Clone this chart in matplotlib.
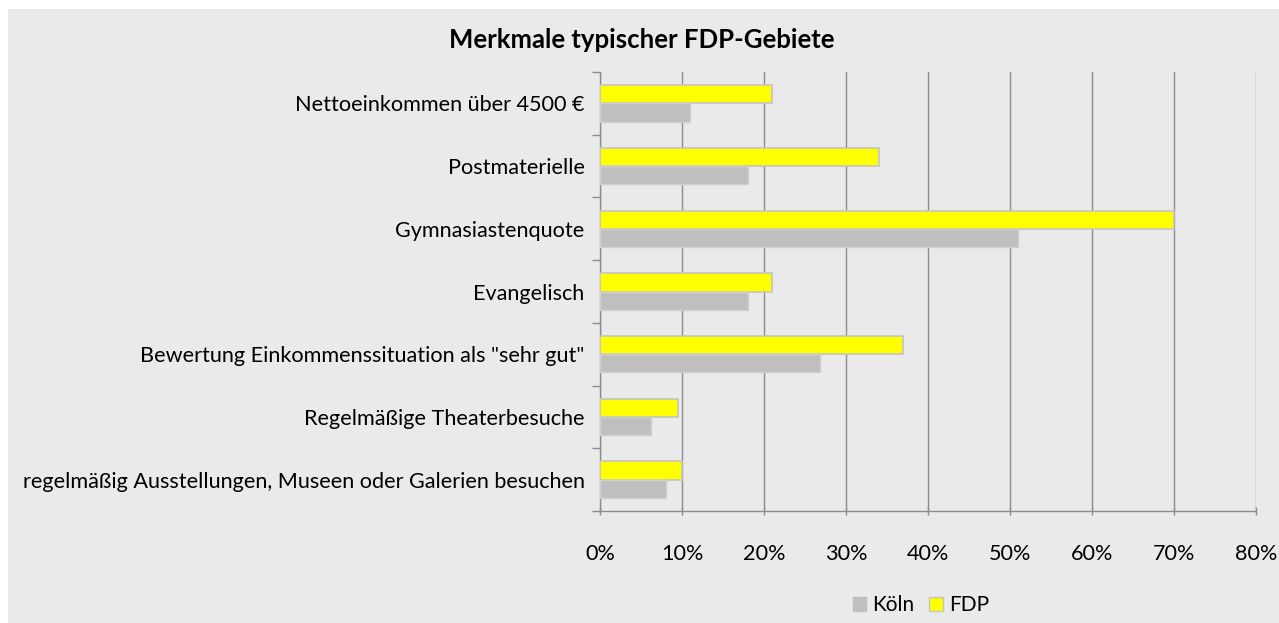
import numpy as np
import matplotlib.pyplot as plt
from matplotlib.patches import Rectangle, Patch
from matplotlib.ticker import FuncFormatter, FixedLocator

# Merkmale, von oben nach unten
kategorien = ["Nettoeinkommen über 4500 €",
              "Postmaterielle",
              "Gymnasiastenquote",
              "Evangelisch",
              "Bewertung Einkommenssituation als \"sehr gut\"",
              "Regelmäßige Theaterbesuche",
              "regelmäßig Ausstellungen, Museen oder Galerien besuchen"]
koeln = [11, 18, 51, 18, 26.8, 6.2, 8]
fdp = [21, 34, 70, 21, 37, 9.5, 10]
xticks = [0, 10, 20, 30, 40, 50, 60, 70, 80]

plt.rcParams['font.family'] = ['Lato', 'DejaVu Sans']

W, H = 1279, 623
fig = plt.figure(figsize=(W / 100, H / 100), dpi=100)
fig.patch.set_facecolor('white')
fig.patches.append(Rectangle((8 / W, 0), 1 - 8 / W, 1 - 9 / H, transform=fig.transFigure,
                             facecolor='#eaeaea', edgecolor='none', zorder=-10))

ax = fig.add_axes([600 / W, 1 - 511 / H, 656 / W, 439 / H])
ax.set_facecolor('none')

n = len(kategorien)
y = np.arange(n)
h = 0.29
ax.barh(y - h / 2, fdp, height=h, color='#ffff00', edgecolor='#c4c4c4', linewidth=1.2, label='FDP', zorder=3)
ax.barh(y + h / 2, koeln, height=h, color='#bfbfbf', edgecolor='#d0d0d0', linewidth=1.0, label='Köln', zorder=3)

ax.set_xlim(0, 80)
ax.set_ylim(n - 0.5, -0.5)
ax.set_xticks(xticks)
ax.xaxis.set_major_formatter(FuncFormatter(lambda v, p: f"{int(v)}%"))
ax.grid(axis='x', color='#8c8c8c', linewidth=1, zorder=1)

ax.yaxis.set_major_locator(FixedLocator(np.arange(n + 1) - 0.5))
ax.yaxis.set_minor_locator(FixedLocator(y))
ax.set_yticklabels([], minor=False)
ax.set_yticklabels(kategorien, minor=True)
ax.tick_params(axis='y', which='major', length=6, color='#8c8c8c', width=1)
ax.tick_params(axis='y', which='minor', length=0, pad=11, labelsize=15.6)
ax.tick_params(axis='x', length=6, color='#8c8c8c', width=1, pad=21, labelsize=15.6, direction='inout')

for s in ['top', 'right']:
    ax.spines[s].set_visible(False)
for s in ['left', 'bottom']:
    ax.spines[s].set_color('#8c8c8c')
    ax.spines[s].set_linewidth(1)

fig.text(642 / W, 1 - 40 / H, "Merkmale typischer FDP-Gebiete", ha='center', va='center',
         fontsize=18.5, fontweight='bold')

handles = [Patch(facecolor='#bfbfbf', edgecolor='#bfbfbf', label='Köln'),
           Patch(facecolor='#ffff00', edgecolor='#c4c4c4', label='FDP')]
fig.legend(handles=handles, loc='center', bbox_to_anchor=(921 / W, 1 - 605 / H), ncol=2,
           frameon=False, fontsize=15, handlelength=0.65, handleheight=0.65, handletextpad=0.3,
           columnspacing=0.7)

fig.savefig('out.png', dpi=100)
